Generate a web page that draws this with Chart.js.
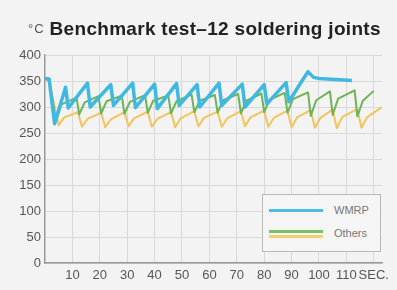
<!DOCTYPE html>
<html>
<head>
<meta charset="utf-8">
<script src="https://cdn.jsdelivr.net/npm/chart.js@4.4.1/dist/chart.umd.min.js"></script>
<style>
  html, body { margin: 0; padding: 0; background: #f3f3f3; }
  #wrap { position: relative; width: 397px; height: 290px; overflow: hidden; }
  #chart { position: absolute; left: 0; top: 0; }
  #title { position: absolute; left: 28px; top: 19px; line-height: 20px; white-space: nowrap;
           font-family: "Liberation Sans", Arial, sans-serif; color: #222; }
  #title .unit { font-size: 13px; color: #555; vertical-align: 2px; margin-right: 5px; letter-spacing: 1px; }
  #title .main { font-size: 19px; font-weight: bold; letter-spacing: 0.3px; }
  #legend { position: absolute; left: 262px; top: 194px; width: 117px; height: 56px;
            background: #f5f5f5; border: 1px solid #b8b8b8;
            font-family: "Liberation Sans", Arial, sans-serif; font-size: 11px; color: #777; }
  #legend .sw { position: absolute; left: 6px; width: 54px; height: 3px; }
  #legend .lbl { position: absolute; left: 71px; line-height: 12px; }
</style>
</head>
<body>
<div id="wrap">
  <canvas id="chart" width="397" height="290"></canvas>
  <div id="title"><span class="unit">°C</span><span class="main">Benchmark test–12 soldering joints</span></div>
  <div id="legend">
    <div class="sw" style="top:14px;background:#4dbde4"></div>
    <div class="lbl" style="top:9px">WMRP</div>
    <div class="sw" style="top:35px;background:#7cc26a"></div>
    <div class="sw" style="top:40px;background:#f5cf70"></div>
    <div class="lbl" style="top:32px">Others</div>
  </div>
</div>
<script>
// WMRP station: temperature at the tip (deg C) against time (s)
var wmrpTime = [0, 1.5, 3.5, 7.5, 8.5, 15.5, 16.5, 24, 25, 32, 33, 40, 41, 48, 49, 55.5, 56.5, 63.5, 64.5, 72, 73, 80, 81, 88, 89, 94, 96, 98, 100, 112];
var wmrpTemp = [355, 354, 268, 338, 298, 346, 300, 343, 303, 346, 299, 344, 297, 345, 303, 343, 300, 346, 303, 344, 300, 343, 306, 347, 310, 352, 368, 357, 355, 351];

// Other stations (green and yellow curves)
var otherATime = [0, 1.5, 4, 6, 11.5, 12.5, 14.5, 19.5, 20.5, 22.5, 28, 29, 31, 36.5, 37.5, 39.5, 45, 46, 48, 53.5, 54.5, 56.5, 62, 63, 65, 70.5, 71.5, 73.5, 79, 80, 82, 87.5, 88.5, 90.5, 96, 97, 99, 104, 105, 107, 113, 114, 116, 120];
var otherATemp = [355, 354, 272, 305, 318, 286, 309, 321, 288, 311, 322, 287, 310, 323, 289, 312, 322, 288, 311, 324, 290, 312, 323, 289, 313, 325, 288, 312, 326, 290, 314, 327, 289, 315, 328, 283, 313, 330, 285, 316, 332, 282, 312, 331];

var otherBTime = [0, 1.5, 5, 7, 12, 13.5, 15.5, 20.5, 22, 24, 29, 30.5, 32.5, 37.5, 39, 41, 46, 47.5, 49.5, 54.5, 56, 58, 63, 64.5, 66.5, 71.5, 73, 75, 80, 81.5, 83.5, 88.5, 90, 92, 97, 98.5, 100.5, 105, 106.5, 108.5, 114, 115.5, 117.5, 123];
var otherBTemp = [352, 350, 265, 280, 290, 262, 277, 289, 261, 276, 290, 263, 278, 291, 262, 277, 290, 261, 278, 292, 263, 279, 291, 262, 278, 292, 263, 280, 293, 262, 279, 293, 261, 280, 294, 260, 279, 295, 259, 281, 296, 260, 280, 300];

var xTickValues = [10, 20, 30, 40, 50, 60, 70, 80, 90, 100, 110, 120];
var xTickLabels = ['10', '20', '30', '40', '50', '60', '70', '80', '90', '100', '110', 'SEC.'];

var toPoints = function(xs, ys) {
  return xs.map(function(x, i) { return {x: x, y: ys[i]}; });
};

var tickFont = {family: '"Liberation Sans", Arial, sans-serif', size: 13};

var ctx = document.getElementById('chart').getContext('2d');
new Chart(ctx, {
  type: 'line',
  data: {
    datasets: [
      {label: 'WMRP', data: toPoints(wmrpTime, wmrpTemp), borderColor: '#3fb8e2', borderWidth: 3.5},
      {label: 'Others', data: toPoints(otherATime, otherATemp), borderColor: '#6db456', borderWidth: 2},
      {label: 'Others', data: toPoints(otherBTime, otherBTemp), borderColor: '#f2c45c', borderWidth: 2}
    ]
  },
  options: {
    responsive: false,
    animation: false,
    layout: {padding: {top: 55, right: 15, left: 0, bottom: 0}},
    elements: {
      point: {radius: 0},
      line: {tension: 0, fill: false, borderJoinStyle: 'round'}
    },
    plugins: {legend: {display: false}, tooltip: {enabled: false}},
    scales: {
      x: {
        type: 'linear', min: 0, max: 123,
        afterFit: function(s) { s.height = 27; },
        afterBuildTicks: function(s) {
          s.ticks = xTickValues.map(function(v) { return {value: v}; });
        },
        ticks: {
          padding: 5, color: '#555', font: tickFont, maxRotation: 0, autoSkip: false,
          callback: function(v) {
            var i = xTickValues.indexOf(v);
            return i < 0 ? '' : xTickLabels[i];
          }
        },
        grid: {color: '#d9d9d9', drawTicks: false},
        border: {color: '#999', width: 1.5}
      },
      y: {
        min: 0, max: 400,
        afterFit: function(s) { s.width = 45; },
        ticks: {stepSize: 50, padding: 4, color: '#555', font: tickFont},
        grid: {color: '#d9d9d9', drawTicks: false},
        border: {color: '#999', width: 1.5}
      }
    }
  }
});
</script>
</body>
</html>
